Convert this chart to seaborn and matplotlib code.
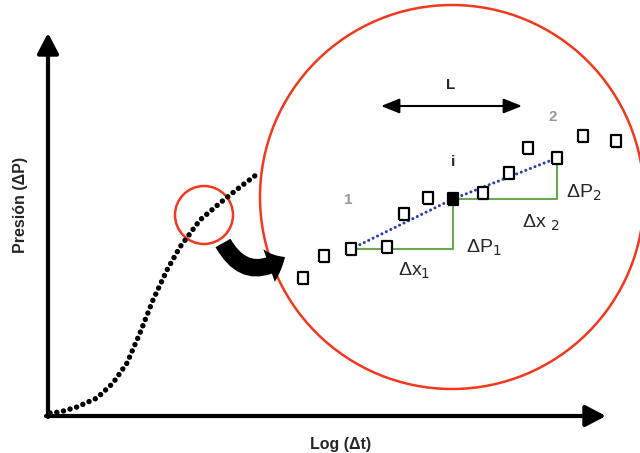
import numpy as np
import pandas as pd
import seaborn as sns
import matplotlib.pyplot as plt
from matplotlib.patches import Circle, FancyArrowPatch

sns.set_theme(style="white")
plt.rcParams["font.family"] = ["Liberation Sans", "DejaVu Sans"]

# Pressure curve (dotted), in picture coordinates (y grows downward)
curve_x = [50, 60, 77, 97, 113, 127, 140, 153, 167, 180, 200, 220, 240, 260]
curve_y = [413, 412, 407, 398, 383, 363, 333, 300, 270, 247, 220, 203, 187, 172]

# Zoomed data points (hollow squares) and the point "i" (filled)
pts_x = [303, 324, 351, 387, 404, 428, 483, 509, 528, 557, 583, 616]
pts_y = [278, 256, 249, 247, 214, 198, 193, 173, 148, 158, 136, 141]
point_i = (453, 199)

# Derivative window: points 1, i, 2
win_x = [351, 453, 557]
win_y = [249, 199, 158]

# Zoom circles: (cx, cy, r)
small_circle = (204, 215, 29)
big_circle = (452, 197, 192)

red = "#f2381d"
green = "#6aa84f"
blue = "#2b3fae"

fig = plt.figure(figsize=(6.4, 4.53), dpi=100)
ax = fig.add_axes([0, 0, 1, 1])
ax.set_xlim(0, 640)
ax.set_ylim(453, 0)
ax.axis("off")

# Axes with arrows
head = "-|>,head_length=0.88,head_width=0.46"
ax.annotate("", xy=(48, 33), xytext=(48, 417),
            arrowprops=dict(arrowstyle=head, lw=3, color="black",
                            mutation_scale=14, shrinkA=0, shrinkB=0))
ax.annotate("", xy=(606, 416), xytext=(46, 416),
            arrowprops=dict(arrowstyle=head, lw=3, color="black",
                            mutation_scale=14, shrinkA=0, shrinkB=0))

ax.text(21, 205, "Presión (ΔP)", rotation=90, ha="center", va="center",
        fontsize=11.5, fontweight="bold")
ax.text(341, 445, "Log (Δt)", ha="center", va="center",
        fontsize=11.5, fontweight="bold")

# Dotted pressure curve
sns.lineplot(x=curve_x, y=curve_y, sort=False, ax=ax, color="black",
             linewidth=3.9, linestyle=(0, (0.01, 1.25)), dash_capstyle="round")

# Circles
for cx, cy, r in [small_circle, big_circle]:
    ax.add_patch(Circle((cx, cy), r, fill=False, ec=red, lw=1.8))

# Curved black arrow
ax.add_patch(FancyArrowPatch((223, 243), (285, 257),
                             connectionstyle="arc3,rad=0.55",
                             arrowstyle="simple,head_length=0.65,head_width=1.25,tail_width=0.62",
                             mutation_scale=20, color="black", lw=0,
                             shrinkA=0, shrinkB=0))

# Green legs
ax.plot([win_x[0], win_x[1], win_x[1]], [win_y[0], win_y[0], win_y[1]], color=green, lw=1.5)
ax.plot([win_x[1], win_x[2], win_x[2]], [win_y[1], win_y[1], win_y[2]], color=green, lw=1.5)

# Blue dotted secant line
sns.lineplot(x=win_x, y=win_y, sort=False, ax=ax, color=blue,
             linewidth=2.2, linestyle=(0, (0.01, 1.6)), dash_capstyle="round")

# Squares
rect = [(-0.42, -0.5), (0.42, -0.5), (0.42, 0.5), (-0.42, 0.5), (-0.42, -0.5)]
sns.scatterplot(x=pts_x, y=pts_y, ax=ax, marker=rect, s=75,
                facecolor="white", edgecolor="black", linewidth=1.6, zorder=5)
sns.scatterplot(x=[point_i[0]], y=[point_i[1]], ax=ax, marker=rect, s=75,
                facecolor="black", edgecolor="black", linewidth=1.6, zorder=6)

# L window arrow
ax.annotate("", xy=(522, 106), xytext=(381, 106),
            arrowprops=dict(arrowstyle="<|-|>,head_length=0.8,head_width=0.32",
                            lw=1.5, color="black", mutation_scale=14, shrinkA=0, shrinkB=0))
ax.text(451, 85, "L", ha="center", va="center", fontsize=11, fontweight="bold")

# Labels
ax.text(453, 162, "i", ha="center", va="center", fontsize=11, fontweight="bold")
ax.text(348, 200, "1", ha="center", va="center", fontsize=11, fontweight="bold", color="#9a9a9a")
ax.text(553, 117, "2", ha="center", va="center", fontsize=11, fontweight="bold", color="#9a9a9a")
ax.text(466, 248, "ΔP$_1$", ha="left", va="center", fontsize=14)
ax.text(398, 271, "Δx$_1$", ha="left", va="center", fontsize=14)
ax.text(566, 193, "ΔP$_2$", ha="left", va="center", fontsize=14)
ax.text(522, 223, "Δx $_2$", ha="left", va="center", fontsize=14)

fig.savefig("out.png", dpi=100)
